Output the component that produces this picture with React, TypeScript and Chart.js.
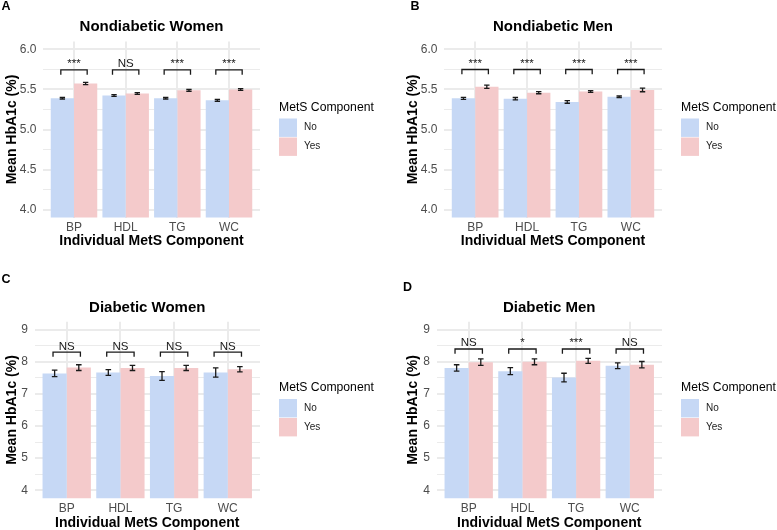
import React, { useEffect, useRef } from "react";
import { Chart, registerables } from "chart.js";

Chart.register(...registerables);

const FONT = '"Liberation Sans", Arial, Helvetica, sans-serif';

// ---------- data ----------
const categories = ["BP", "HDL", "TG", "WC"];
const groupLabels = ["No", "Yes"];
const legendTitle = "MetS Component";
const xAxisTitle = "Individual MetS Component";
const yAxisTitle = "Mean HbA1c (%)";

const ndYTicks = [4.0, 4.5, 5.0, 5.5, 6.0];
const ndYTickLabels = ["4.0", "4.5", "5.0", "5.5", "6.0"];
const dYTicks = [4, 5, 6, 7, 8, 9];
const dYTickLabels = ["4", "5", "6", "7", "8", "9"];

const ndWomenNo = [5.39, 5.425, 5.39, 5.365];
const ndWomenYes = [5.575, 5.45, 5.49, 5.5];
const ndWomenNoErr = [0.01, 0.012, 0.01, 0.012];
const ndWomenYesErr = [0.015, 0.012, 0.012, 0.012];
const ndWomenSig = ["***", "NS", "***", "***"];

const ndMenNo = [5.39, 5.385, 5.345, 5.41];
const ndMenYes = [5.535, 5.46, 5.475, 5.495];
const ndMenNoErr = [0.0125, 0.015, 0.017, 0.01];
const ndMenYesErr = [0.02, 0.013, 0.012, 0.023];
const ndMenSig = ["***", "***", "***", "***"];

const dWomenNo = [7.64, 7.67, 7.56, 7.67];
const dWomenYes = [7.82, 7.81, 7.81, 7.77];
const dWomenNoErr = [0.1, 0.09, 0.135, 0.145];
const dWomenYesErr = [0.09, 0.08, 0.08, 0.08];
const dWomenSig = ["NS", "NS", "NS", "NS"];

const dMenNo = [7.81, 7.71, 7.51, 7.88];
const dMenYes = [7.99, 8.0, 8.03, 7.91];
const dMenNoErr = [0.1, 0.11, 0.135, 0.09];
const dMenYesErr = [0.1, 0.09, 0.08, 0.1];
const dMenSig = ["NS", "*", "***", "NS"];

// ---------- styles / layout ----------
const NO_COLOR = "#c6d8f5";
const YES_COLOR = "#f4cacb";
const GRID_COLOR = "#ebebeb";
const INK = "#1a1a1a";

const panels = [
  {
    id: "A", letter: "A", letterPos: [1.5, 6.7], title: "Nondiabetic Women",
    x: 0, y: 0, w: 389, h: 265,
    area: { left: 43, right: 260, top: 41.5, bottom: 217.5 },
    yMin: 3.9, yMax: 6.1, yTicks: ndYTicks, yLabels: ndYTickLabels,
    no: ndWomenNo, yes: ndWomenYes, noErr: ndWomenNoErr, yesErr: ndWomenYesErr, sig: ndWomenSig,
    bracketY: 5.745, tip: 0.06, titleY: 27.3, xTitleY: 241, yTitleX: 12,
  },
  {
    id: "B", letter: "B", letterPos: [21.5, 6.7], title: "Nondiabetic Men",
    x: 389, y: 0, w: 388, h: 265,
    area: { left: 55, right: 273, top: 41.5, bottom: 217.5 },
    yMin: 3.9, yMax: 6.1, yTicks: ndYTicks, yLabels: ndYTickLabels,
    no: ndMenNo, yes: ndMenYes, noErr: ndMenNoErr, yesErr: ndMenYesErr, sig: ndMenSig,
    bracketY: 5.75, tip: 0.06, titleY: 27.3, xTitleY: 241, yTitleX: 24.5,
  },
  {
    id: "C", letter: "C", letterPos: [1.5, 14.2], title: "Diabetic Women",
    x: 0, y: 265, w: 389, h: 265,
    area: { left: 34.5, right: 260, top: 56.7, bottom: 233.3 },
    yMin: 3.75, yMax: 9.25, yTicks: dYTicks, yLabels: dYTickLabels,
    no: dWomenNo, yes: dWomenYes, noErr: dWomenNoErr, yesErr: dWomenYesErr, sig: dWomenSig,
    bracketY: 8.3, tip: 0.14, titleY: 43.3, xTitleY: 257.8, yTitleX: 12,
  },
  {
    id: "D", letter: "D", letterPos: [14.1, 22.5], title: "Diabetic Men",
    x: 389, y: 265, w: 388, h: 265,
    area: { left: 47.5, right: 273, top: 56.7, bottom: 233.3 },
    yMin: 3.75, yMax: 9.25, yTicks: dYTicks, yLabels: dYTickLabels,
    no: dMenNo, yes: dMenYes, noErr: dMenNoErr, yesErr: dMenYesErr, sig: dMenSig,
    bracketY: 8.4, tip: 0.15, titleY: 43.3, xTitleY: 258.3, yTitleX: 24.5,
  },
];

function isMajor(p: any, v: number) {
  return p.yTicks.some((t: number) => Math.abs(t - v) < 1e-6);
}

function makePlugin(p: any) {
  return {
    id: "annot" + p.id,
    afterDatasetsDraw(chart: any) {
      const { ctx } = chart;
      const xs = chart.scales.x;
      const ys = chart.scales.y;
      ctx.save();
      ctx.strokeStyle = INK;
      ctx.lineWidth = 1.3;
      [p.noErr, p.yesErr].forEach((errs: number[], di: number) => {
        const vals = di === 0 ? p.no : p.yes;
        const meta = chart.getDatasetMeta(di);
        meta.data.forEach((bar: any, i: number) => {
          const yt = ys.getPixelForValue(vals[i] + errs[i]);
          const yb = ys.getPixelForValue(vals[i] - errs[i]);
          const half = bar.width * 0.115;
          ctx.beginPath();
          ctx.moveTo(bar.x, yt);
          ctx.lineTo(bar.x, yb);
          ctx.moveTo(bar.x - half, yt);
          ctx.lineTo(bar.x + half, yt);
          ctx.moveTo(bar.x - half, yb);
          ctx.lineTo(bar.x + half, yb);
          ctx.stroke();
        });
      });
      p.sig.forEach((label: string, i: number) => {
        const xl = xs.getPixelForValue(i + 1 - 0.255);
        const xr = xs.getPixelForValue(i + 1 + 0.255);
        const yb = ys.getPixelForValue(p.bracketY);
        const yt = ys.getPixelForValue(p.bracketY - p.tip);
        ctx.beginPath();
        ctx.moveTo(xl, yt);
        ctx.lineTo(xl, yb);
        ctx.lineTo(xr, yb);
        ctx.lineTo(xr, yt);
        ctx.stroke();
        ctx.fillStyle = INK;
        ctx.font = `11.5px ${FONT}`;
        ctx.textAlign = "center";
        ctx.textBaseline = "alphabetic";
        ctx.fillText(label, (xl + xr) / 2, yb - 2.5);
      });
      ctx.restore();
    },
    afterDraw(chart: any) {
      const { ctx, chartArea } = chart;
      const cx = (chartArea.left + chartArea.right) / 2;
      const cy = (chartArea.top + chartArea.bottom) / 2;
      ctx.save();
      ctx.fillStyle = "#000";
      // panel letter
      ctx.font = `bold 12.5px ${FONT}`;
      ctx.textAlign = "left";
      ctx.textBaseline = "middle";
      ctx.fillText(p.letter, p.letterPos[0], p.letterPos[1]);
      // title
      ctx.font = `bold 15px ${FONT}`;
      ctx.textAlign = "center";
      ctx.fillText(p.title, cx, p.titleY);
      // x title
      ctx.font = `bold 14px ${FONT}`;
      ctx.fillText(xAxisTitle, cx, p.xTitleY);
      // y title
      ctx.save();
      ctx.translate(p.yTitleX, cy);
      ctx.rotate(-Math.PI / 2);
      ctx.fillText(yAxisTitle, 0, 0);
      ctx.restore();
      // legend
      const lx = chartArea.right + 19;
      const ty = cy - 22;
      ctx.font = `12.2px ${FONT}`;
      ctx.textAlign = "left";
      ctx.fillStyle = "#000";
      ctx.fillText(legendTitle, lx, ty);
      const colors = [NO_COLOR, YES_COLOR];
      groupLabels.forEach((lab, i) => {
        const ky = ty + 11 + i * 19;
        ctx.fillStyle = colors[i];
        ctx.fillRect(lx, ky, 18, 18.4);
        ctx.fillStyle = "#222";
        ctx.font = `10px ${FONT}`;
        ctx.fillText(lab, lx + 25, ky + 9.2);
      });
      ctx.restore();
    },
  };
}

function Panel({ p }: { p: any }) {
  const ref = useRef<HTMLCanvasElement | null>(null);
  useEffect(() => {
    if (!ref.current) return;
    const minorTicks = p.yTicks.slice(0, -1).map((t: number, i: number) => (t + p.yTicks[i + 1]) / 2);
    const allTicks = [...p.yTicks, ...minorTicks].sort((a: number, b: number) => a - b);
    const chart = new Chart(ref.current, {
      type: "bar",
      data: {
        datasets: [
          {
            label: groupLabels[0],
            data: categories.map((c, i) => ({ x: i + 1, y: p.no[i] })),
            backgroundColor: NO_COLOR,
            borderWidth: 0,
            categoryPercentage: 0.9,
            barPercentage: 1.0,
          },
          {
            label: groupLabels[1],
            data: categories.map((c, i) => ({ x: i + 1, y: p.yes[i] })),
            backgroundColor: YES_COLOR,
            borderWidth: 0,
            categoryPercentage: 0.9,
            barPercentage: 1.0,
          },
        ],
      },
      options: {
        animation: false,
        responsive: false,
        devicePixelRatio: 1,
        events: [],
        layout: {
          padding: {
            left: 0,
            right: p.w - p.area.right,
            top: p.area.top,
            bottom: 0,
          },
        },
        plugins: { legend: { display: false }, tooltip: { enabled: false }, title: { display: false } },
        scales: {
          x: {
            type: "linear",
            min: 0.4,
            max: 4.6,
            bounds: "data",
            offset: false,
            border: { display: false },
            grid: { offset: false, color: GRID_COLOR, lineWidth: 2, drawTicks: false },
            ticks: {
              autoSkip: false,
              maxRotation: 0,
              padding: 3,
              color: "#4d4d4d",
              font: { family: FONT, size: 12 },
              callback: (v: any) => categories[Math.round(v) - 1] ?? "",
            },
            afterBuildTicks: (scale: any) => {
              scale.ticks = categories.map((c, i) => ({ value: i + 1 }));
            },
            afterFit: (scale: any) => {
              scale.height = p.h - p.area.bottom;
            },
          },
          y: {
            type: "linear",
            min: p.yMin,
            max: p.yMax,
            bounds: "data",
            border: { display: false },
            grid: {
              color: GRID_COLOR,
              drawTicks: false,
              lineWidth: (ctx: any) => (ctx.tick && isMajor(p, ctx.tick.value) ? 2 : 1),
            },
            ticks: {
              autoSkip: false,
              padding: 6.5,
              color: "#4d4d4d",
              font: { family: FONT, size: 12 },
              callback: (v: any) => {
                const idx = p.yTicks.findIndex((t: number) => Math.abs(t - v) < 1e-6);
                return idx >= 0 ? p.yLabels[idx] : "";
              },
            },
            afterBuildTicks: (scale: any) => {
              scale.ticks = allTicks.map((v: number) => ({ value: v }));
            },
            afterFit: (scale: any) => {
              scale.width = p.area.left;
            },
          },
        },
      },
      plugins: [makePlugin(p)],
    } as any);
    return () => chart.destroy();
  }, [p]);
  return (
    <canvas
      ref={ref}
      width={p.w}
      height={p.h}
      style={{ position: "absolute", left: p.x, top: p.y, width: p.w, height: p.h }}
    />
  );
}

export default function App() {
  return (
    <div style={{ position: "absolute", left: 0, top: 0, width: 777, height: 530, background: "#fff", overflow: "hidden" }}>
      {panels.map((p) => (
        <Panel key={p.id} p={p} />
      ))}
    </div>
  );
}
